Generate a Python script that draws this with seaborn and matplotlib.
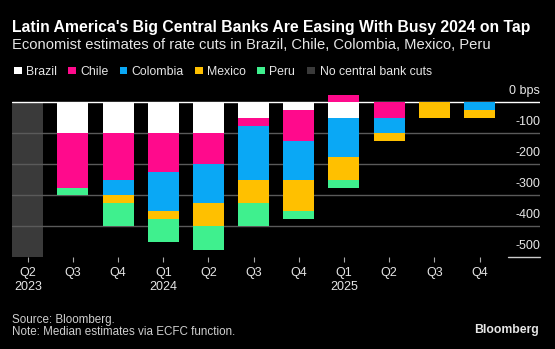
import matplotlib
matplotlib.use("Agg")
import matplotlib.pyplot as plt
from matplotlib.patches import Rectangle
import matplotlib.transforms as mtransforms
import numpy as np
import pandas as pd
import seaborn as sns

# ---- data (bps) ----
periods = ["2023Q2", "2023Q3", "2023Q4", "2024Q1", "2024Q2", "2024Q3",
           "2024Q4", "2025Q1", "2025Q2", "2025Q3", "2025Q4"]
tick_labels = ["Q2\n2023", "Q3", "Q4", "Q1\n2024", "Q2", "Q3", "Q4",
               "Q1\n2025", "Q2", "Q3", "Q4"]
brazil = [0, -100, -100, -100, -100, -50, -25, -50, 0, 0, 0]
chile = [0, -175, -150, -125, -100, -25, -100, 25, -50, 0, 0]
colombia = [0, 0, -50, -125, -125, -175, -125, -125, -50, 0, -25]
mexico = [0, 0, -25, -25, -75, -75, -100, -75, -25, -50, -25]
peru = [0, -25, -75, -75, -75, -75, -25, -25, 0, 0, 0]
no_cuts = [-500, 0, 0, 0, 0, 0, 0, 0, 0, 0, 0]
y_ticks = [0, -100, -200, -300, -400, -500]
y_tick_labels = ["0 bps", "-100", "-200", "-300", "-400", "-500"]

series_names = ["Brazil", "Chile", "Colombia", "Mexico", "Peru"]
colors = {"Brazil": "#ffffff", "Chile": "#ff0a8c", "Colombia": "#0aa8f5",
          "Mexico": "#ffc000", "Peru": "#3ff08e"}
nocut_color = "#3a3a3a"

df = pd.DataFrame({"period": periods, "Brazil": brazil, "Chile": chile,
                   "Colombia": colombia, "Mexico": mexico, "Peru": peru,
                   "none": no_cuts})
neg = df[series_names].clip(upper=0)
cum = neg.cumsum(axis=1)
chile_pos = df["Chile"].clip(lower=0)

sns.set_theme(style="dark")
plt.rcParams["font.family"] = ["Liberation Sans", "DejaVu Sans"]

W, H = 555, 349
fig = plt.figure(figsize=(W / 100, H / 100), dpi=100, facecolor="black")

def fx(px):
    return px / W

def fy(py):
    return 1 - py / H

# axes geometry in pixels
ax_left, ax_right = 12.3, 540.0
y0_px, px_per_100 = 102.3, 31.0
ymin, ymax = -500, 60
bot_px = y0_px + (-ymin) / 100 * px_per_100
top_px = y0_px - ymax / 100 * px_per_100
ax = fig.add_axes([fx(ax_left), fy(bot_px), fx(ax_right - ax_left),
                   (bot_px - top_px) / H])
ax.set_facecolor("black")

c0, step = 27.8, 45.17
bar_w = 31.0 / step
ax.set_xlim((ax_left - c0) / step, (ax_right - c0) / step)
ax.set_ylim(ymin, ymax)

# "no central bank cuts" bar
sns.barplot(data=df, x="period", y="none", order=periods, color=nocut_color,
            saturation=1, width=bar_w, errorbar=None, linewidth=0, ax=ax)
n_dark = len(ax.patches)
for p in ax.patches:
    p.set_zorder(1)

# gridlines (visible across the dark bar, hidden by coloured bars)
for v in y_ticks[1:-1]:
    ax.axhline(v, color="#5a5a5a", lw=1.0, zorder=1.5)
ax.axhline(0, color="#ffffff", lw=1.0, zorder=1.6)

# stacked bars via cumulative overlap (draw largest first)
for name in reversed(series_names):
    tmp = pd.DataFrame({"period": periods, "v": cum[name].values})
    sns.barplot(data=tmp, x="period", y="v", order=periods,
                color=colors[name], saturation=1, width=bar_w,
                errorbar=None, linewidth=0, ax=ax)
tmp = pd.DataFrame({"period": periods, "v": chile_pos.values})
sns.barplot(data=tmp, x="period", y="v", order=periods, color=colors["Chile"],
            saturation=1, width=bar_w, errorbar=None, linewidth=0, ax=ax)
for i, p in enumerate(ax.patches):
    p.set_zorder(1 if i < n_dark else 2 + i * 1e-4)

ax.set_xlim((ax_left - c0) / step, (ax_right - c0) / step)
ax.set_ylim(ymin, ymax)
for s in ax.spines.values():
    s.set_visible(False)
ax.grid(False)
ax.set_xlabel("")
ax.set_ylabel("")
ax.set_yticks([])
ax.set_xticks(range(len(periods)))
ax.set_xticklabels(tick_labels, color="#e6e6e6", fontsize=9, linespacing=1.25)
ax.tick_params(axis="x", length=3.4, width=0.8, color="#aaaaaa",
               direction="out", pad=3.5, bottom=True)

# y labels above gridlines, right aligned
for v, lab in zip(y_ticks, y_tick_labels):
    ax.annotate(lab, xy=(1.0, v), xycoords=("axes fraction", "data"),
                xytext=(0, 6.0), textcoords="offset points", ha="right",
                va="baseline", color="#e6e6e6", fontsize=9,
                annotation_clip=False)
# short baseline segment under -500
trans = mtransforms.blended_transform_factory(ax.transAxes, ax.transData)
ax.plot([(508 - ax_left) / (ax_right - ax_left), 1.0], [-500, -500],
        color="#cccccc", lw=1.0, transform=trans, clip_on=False)

# titles
fig.text(fx(12), fy(31.7), "Latin America's Big Central Banks Are Easing With Busy 2024 on Tap",
         color="white", fontsize=11.3, fontweight="bold", va="baseline")
fig.text(fx(12), fy(49.3), "Economist estimates of rate cuts in Brazil, Chile, Colombia, Mexico, Peru",
         color="#e6e6e6", fontsize=10.6, va="baseline")

# legend
leg_items = [("Brazil", colors["Brazil"], 14),
             ("Chile", colors["Chile"], 68),
             ("Colombia", colors["Colombia"], 119.5),
             ("Mexico", colors["Mexico"], 195),
             ("Peru", colors["Peru"], 257.3),
             ("No central bank cuts", nocut_color, 307.3)]
for lab, col, x in leg_items:
    fig.patches.append(Rectangle((fx(x), fy(74.3)), fx(7.7), 7.7 / H,
                                 transform=fig.transFigure, facecolor=col,
                                 edgecolor="none"))
    fig.text(fx(x + 12.2), fy(75), lab, color="#e6e6e6", fontsize=8.8,
             va="baseline")

# footer
fig.text(fx(12.3), fy(323.3), "Source: Bloomberg.", color="#cfcfcf",
         fontsize=8.4, va="baseline")
fig.text(fx(12.3), fy(335.3), "Note: Median estimates via ECFC function.",
         color="#cfcfcf", fontsize=8.4, va="baseline")
fig.text(fx(538.5), fy(333.3), "Bloomberg", color="#e6e6e6", fontsize=8.8,
         fontweight="bold", ha="right", va="baseline")

fig.savefig("out.png", dpi=100, facecolor="black")
